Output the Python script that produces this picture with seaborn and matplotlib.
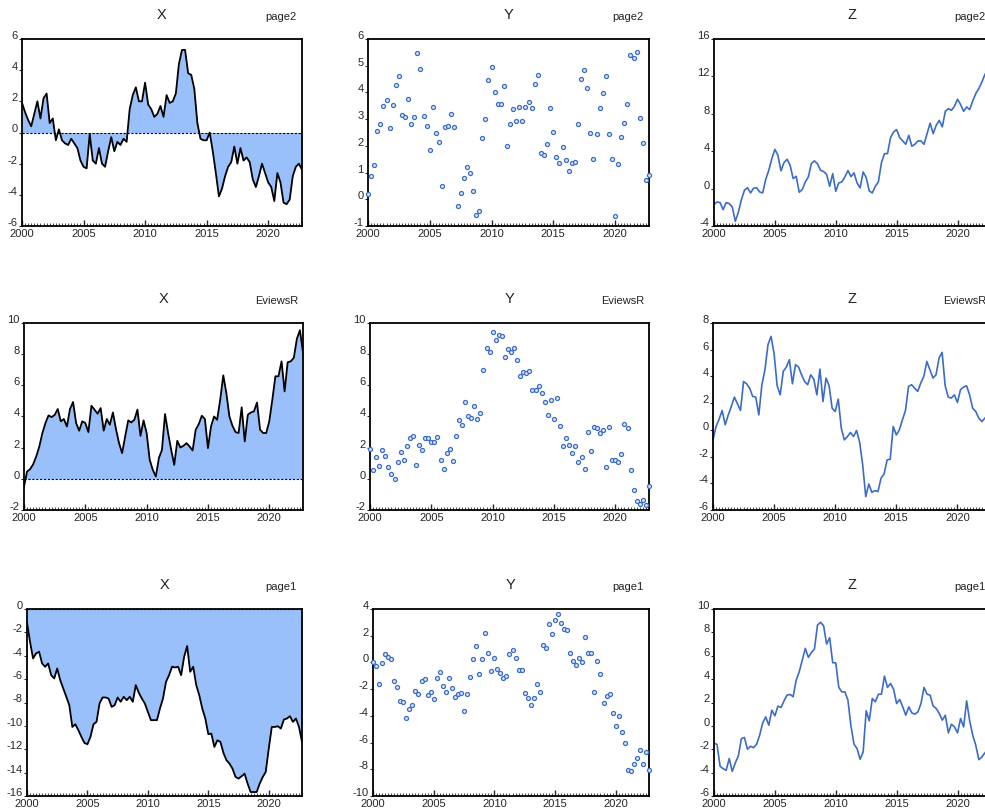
import numpy as np
import matplotlib
matplotlib.use("Agg")
import matplotlib.pyplot as plt
import matplotlib.transforms as mtransforms
import seaborn as sns
from matplotlib.ticker import MultipleLocator

sns.set_style("white")
plt.rcParams['font.family'] = ['Liberation Sans Narrow', 'Liberation Sans', 'DejaVu Sans']
plt.rcParams['axes.unicode_minus'] = False

# Quarterly observations, 2000Q1 - 2022Q4
dates = 2000 + np.arange(92) / 4.0

pages = ["page2", "EviewsR", "page1"]
series_names = ["X", "Y", "Z"]

x_page2 = [1.9, 1.3, 0.8, 0.4, 1.2, 2.0, 0.9, 2.2, 2.5, 0.6, 0.9, -0.5, 0.2, -0.5, -0.7, -0.8,
           -0.4, -0.7, -1.0, -1.8, -2.2, -2.3, -0.1, -1.8, -2.0, -1.0, -2.0, -2.2, -1.2, -0.3,
           -1.2, -0.6, -0.8, -0.4, -0.6, 1.5, 2.4, 2.9, 2.0, 2.0, 3.2, 1.8, 1.5, 1.0, 1.2, 1.7,
           1.0, 2.4, 1.9, 2.0, 2.5, 4.4, 5.3, 5.3, 3.8, 3.7, 2.8, 0.6, -0.4, -0.5, -0.5, 0.0,
           -1.2, -2.6, -4.1, -3.6, -2.8, -2.2, -1.9, -0.9, -2.0, -1.0, -1.8, -1.6, -1.9, -3.0,
           -3.5, -2.8, -2.0, -2.6, -3.2, -3.5, -4.4, -2.6, -3.2, -4.5, -4.6, -4.3, -2.8, -2.2,
           -2.0, -2.4]
y_page2 = [0.2, 0.86, 1.3, 2.56, 2.81, 3.48, 3.7, 2.68, 3.53, 4.26, 4.6, 3.15, 3.08, 3.76, 2.83,
           3.07, 5.49, 4.87, 3.13, 2.75, 1.86, 3.46, 2.5, 2.13, 0.49, 2.7, 2.73, 3.2, 2.72, -0.25,
           0.25, 0.81, 1.22, 0.97, 0.32, -0.59, -0.44, 2.28, 3.0, 4.46, 4.96, 4.02, 3.56, 3.57,
           4.24, 2.0, 2.81, 3.38, 2.93, 3.47, 2.92, 3.46, 3.65, 3.4, 4.33, 4.67, 1.75, 1.64, 2.07,
           3.42, 2.53, 1.59, 1.34, 1.97, 1.46, 1.06, 1.34, 1.4, 2.8, 4.52, 4.84, 4.17, 2.5, 1.52,
           2.46, 3.41, 3.96, 4.6, 2.46, 1.51, -0.64, 1.32, 2.33, 2.86, 3.58, 5.39, 5.28, 5.52,
           3.06, 2.11, 0.71, 0.9]
z_page2 = [-1.68, -1.43, -1.5, -2.25, -1.5, -1.6, -1.96, -3.5, -2.53, -1.18, -0.18, 0.1, -0.46,
           0.04, 0.1, -0.36, -0.46, 1.0, 1.96, 3.2, 4.2, 3.56, 1.9, 2.78, 3.14, 2.5, 1.07, 1.32,
           -0.39, -0.1, 0.71, 1.25, 2.7, 2.96, 2.67, 1.96, 1.82, 1.53, 0.25, 1.6, -0.29, 0.61,
           0.71, 1.25, 1.93, 1.28, 1.68, 0.61, 0.07, 1.78, 1.18, -0.25, -0.46, 0.25, 0.71, 2.75,
           3.74, 3.74, 5.45, 6.06, 6.31, 5.45, 5.1, 4.74, 5.7, 4.53, 4.74, 5.1, 5.1, 4.74, 5.88,
           7.0, 5.88, 6.77, 7.3, 6.6, 8.27, 8.55, 8.38, 8.8, 9.55, 9.0, 8.27, 8.73, 8.45, 9.38,
           10.16, 10.7, 11.4, 12.2, 12.8, 13.1]

x_eviewsr = [-0.5, 0.47, 0.62, 0.94, 1.44, 2.08, 2.94, 3.58, 4.07, 3.96, 4.1, 4.48, 3.69, 3.84,
             3.36, 4.48, 4.93, 3.58, 3.09, 3.69, 3.58, 3.0, 4.69, 4.44, 4.18, 4.54, 3.09, 3.84,
             3.47, 4.26, 3.19, 2.29, 1.65, 2.72, 3.75, 3.62, 3.79, 4.44, 2.76, 3.75, 2.94, 1.22,
             0.58, 0.15, 1.33, 1.86, 4.16, 2.94, 1.86, 0.9, 2.44, 2.01, 2.12, 2.29, 2.08, 1.82,
             3.15, 3.51, 4.05, 3.84, 1.97, 3.36, 4.0, 3.79, 5.08, 6.64, 5.5, 4.0, 3.4, 3.0, 2.94,
             4.59, 2.4, 4.11, 4.26, 4.33, 4.9, 3.15, 2.94, 2.94, 3.69, 5.08, 6.58, 6.58, 7.54,
             5.61, 7.48, 7.54, 7.76, 8.98, 9.54, 8.1]
y_eviewsr = [1.9, 0.54, 1.37, 0.84, 1.86, 1.44, 0.79, 0.3, 0.0, 1.09, 1.69, 1.22, 2.08, 2.61,
             2.72, 0.88, 2.19, 1.86, 2.61, 2.61, 2.38, 2.38, 2.68, 1.22, 0.64, 1.63, 1.9, 1.16,
             2.76, 3.75, 3.43, 4.93, 4.05, 3.88, 4.69, 3.81, 4.22, 7.0, 8.42, 8.16, 9.4, 8.93,
             9.26, 9.17, 7.8, 8.31, 8.14, 8.38, 7.6, 6.58, 6.86, 6.79, 6.94, 5.68, 5.68, 5.94,
             5.5, 4.9, 4.11, 5.08, 3.86, 5.19, 3.4, 2.12, 2.61, 2.19, 1.65, 2.12, 1.11, 1.37,
             0.62, 2.98, 1.78, 3.3, 3.26, 2.94, 3.15, 0.79, 3.3, 1.22, 1.22, 1.05, 1.59, 3.54,
             3.26, 0.58, -0.71, -1.41, -1.61, -1.39, -1.67, -0.43]
z_eviewsr = [-0.75, 0.25, 0.8, 1.45, 0.38, 1.12, 1.75, 2.45, 1.95, 1.45, 3.62, 3.45, 3.12, 2.5,
             2.45, 1.12, 3.38, 4.5, 6.38, 7.0, 5.7, 3.3, 2.62, 4.38, 4.7, 5.25, 3.45, 4.88, 4.7,
             4.12, 3.62, 3.38, 4.12, 3.8, 2.62, 4.55, 2.12, 3.88, 3.3, 1.62, 1.38, 2.3, 0.12,
             -0.75, -0.5, -0.2, -0.5, -0.05, -0.92, -2.62, -5.0, -4.05, -4.68, -4.55, -4.62,
             -3.62, -3.3, -2.25, -2.2, 0.25, -0.38, 0.0, 0.75, 1.45, 3.25, 3.38, 3.12, 2.88, 3.5,
             4.0, 5.12, 4.5, 3.88, 4.12, 5.38, 5.8, 3.3, 2.45, 2.38, 2.62, 2.05, 3.0, 3.2, 3.3,
             2.62, 1.62, 1.38, 0.88, 0.62, 0.88, 1.1, 1.3]

x_page1 = [-1.17, -2.8, -4.23, -3.8, -3.66, -4.66, -4.94, -4.66, -5.66, -5.94, -5.09, -6.09,
           -6.8, -7.51, -8.23, -10.09, -9.86, -10.37, -10.94, -11.46, -11.57, -10.94, -9.86,
           -9.66, -8.09, -7.57, -7.57, -7.66, -8.37, -8.23, -7.57, -7.94, -7.51, -7.8, -7.51,
           -7.94, -6.51, -7.17, -7.66, -8.09, -8.8, -9.51, -9.51, -9.51, -8.51, -7.66, -6.23,
           -5.66, -4.94, -5.0, -4.94, -5.66, -4.09, -3.17, -5.37, -4.94, -6.51, -7.37, -8.51,
           -9.37, -10.71, -10.66, -11.8, -11.23, -11.37, -12.31, -12.94, -13.23, -13.66, -14.37,
           -14.51, -14.31, -14.09, -14.94, -15.66, -15.66, -15.66, -14.94, -14.37, -13.94,
           -11.94, -10.09, -10.09, -10.03, -10.23, -9.46, -9.37, -9.17, -9.66, -9.37, -10.09,
           -11.37]
y_page1 = [0.02, -0.25, -1.58, -0.08, 0.6, 0.38, 0.22, -1.38, -1.83, -2.9, -2.95, -4.15, -3.45,
           -3.15, -2.15, -2.33, -1.38, -1.25, -2.45, -2.25, -2.73, -1.13, -0.7, -1.75, -2.25,
           -1.15, -1.88, -2.58, -2.38, -2.28, -3.65, -2.4, -1.08, 0.22, 1.25, -0.88, 0.22, 2.18,
           0.72, -0.63, 0.35, -0.48, -0.78, -1.15, -1.03, 0.6, 0.92, 0.35, -0.58, -0.58, -2.28,
           -2.63, -3.15, -2.63, -1.63, -2.2, 1.33, 1.05, 2.85, 2.1, 3.18, 3.63, 2.98, 2.53, 2.43,
           0.72, 0.1, -0.2, 0.35, 0.0, 1.93, 0.72, 0.72, -2.2, 0.12, -0.83, -3.03, -2.53, -2.4,
           -3.78, -4.78, -4.0, -5.2, -6.03, -8.03, -8.15, -7.63, -7.13, -6.58, -7.58, -6.7, -8.08]
z_page1 = [-1.46, -1.6, -3.46, -3.66, -3.8, -2.8, -3.89, -3.17, -2.57, -1.09, -1.0, -2.0, -1.74,
           -1.86, -1.57, -0.8, 0.26, 0.77, 0.06, 1.34, 0.86, 1.69, 1.57, 2.14, 2.63, 2.69, 2.49,
           3.91, 4.63, 5.63, 6.63, 5.86, 6.29, 6.57, 8.63, 8.86, 8.57, 7.0, 7.54, 5.4, 5.4, 3.29,
           2.91, 2.91, 2.2, -0.03, -1.57, -1.94, -2.86, -2.23, 1.29, 0.43, 2.34, 2.06, 2.71,
           2.71, 4.26, 3.29, 3.63, 3.14, 1.91, 2.26, 1.63, 0.91, 1.63, 1.11, 1.0, 1.2, 1.91,
           3.29, 2.71, 2.63, 1.69, 1.49, 1.06, 0.49, 0.91, -0.6, 0.14, -0.09, -0.6, 0.63, -0.09,
           2.14, 0.43, -0.8, -1.66, -2.89, -2.66, -2.31, -2.0, -1.8]

# y-axis ranges (min, max, step) for each panel
x_axes = [(-6, 6, 2), (-2, 10, 2), (-16, 0, 2)]
y_axes = [(-1, 6, 1), (-2, 10, 2), (-10, 4, 2)]
z_axes = [(-4, 16, 4), (-6, 8, 2), (-6, 10, 2)]

data = [[x_page2, y_page2, z_page2],
        [x_eviewsr, y_eviewsr, z_eviewsr],
        [x_page1, y_page1, z_page1]]
ranges = [[x_axes[i], y_axes[i], z_axes[i]] for i in range(3)]

# panel boxes in pixels: (left, right, top, bottom)
boxes = [[(22, 302, 39, 226), (368, 649, 39, 226), (714, 991, 39, 226)],
         [(24, 303, 323, 510), (370, 649, 323, 510), (713, 991, 323, 510)],
         [(27, 302, 609, 796), (373, 649, 609, 796), (714, 991, 609, 796)]]

W, H = 985, 811
fig = plt.figure(figsize=(W / 100, H / 100), dpi=100)

fill_color = "#99c0fa"
line_blue = "#3b6cc6"
# y tick labels sit a little above their ticks
raise_labels = mtransforms.ScaledTranslation(0, 4 / 100, fig.dpi_scale_trans)

for r in range(3):
    for c in range(3):
        l, rt, t, b = boxes[r][c]
        ax = fig.add_axes([l / W, 1 - b / H, (rt - l) / W, (b - t) / H])
        vals = np.array(data[r][c])
        lo, hi, step = ranges[r][c]
        if c == 0:
            ax.fill_between(dates, vals, 0, color=fill_color, linewidth=0, zorder=1)
            ax.axhline(0, color="black", linestyle=(0, (2, 1.5)), linewidth=0.8, zorder=2)
            sns.lineplot(x=dates, y=vals, ax=ax, color="black", linewidth=1.3, zorder=3)
        elif c == 1:
            ax.plot(dates, vals, linestyle="none", marker="o", markersize=2.9,
                    markerfacecolor="#dde8fa", markeredgecolor=line_blue,
                    markeredgewidth=0.9, clip_on=False, zorder=3)
        else:
            sns.lineplot(x=dates, y=vals, ax=ax, color=line_blue, linewidth=1.2)
        ax.set_xlim(2000, 2022.75)
        ax.set_ylim(lo, hi)
        ax.set_xlabel("")
        ax.set_ylabel("")
        ax.xaxis.set_major_locator(MultipleLocator(5))
        ax.xaxis.set_minor_locator(MultipleLocator(0.25))
        ax.yaxis.set_major_locator(MultipleLocator(step))
        ax.tick_params(axis="x", which="major", direction="in", length=4, width=1,
                       labelsize=8, pad=2, bottom=True, top=False)
        ax.tick_params(axis="x", which="minor", direction="in", length=2, width=0.6,
                       bottom=True, top=False)
        ax.tick_params(axis="y", which="major", direction="out", length=2, width=0.8,
                       labelsize=8, pad=1, left=True, right=False)
        for lab in ax.get_yticklabels():
            lab.set_transform(lab.get_transform() + raise_labels)
        for s in ax.spines.values():
            s.set_visible(True)
            s.set_color("black")
            s.set_linewidth(1.3)
        ax.set_facecolor("white")
        cx = (l + rt) / 2
        fig.text(cx / W, 1 - (t - 24) / H, series_names[c], ha="center", va="center",
                 fontsize=10.5, color="#222222")
        fig.text((rt - 5) / W, 1 - (t - 22) / H, pages[r], ha="right", va="center",
                 fontsize=8, color="#222222")

fig.savefig("out.png", dpi=100)
